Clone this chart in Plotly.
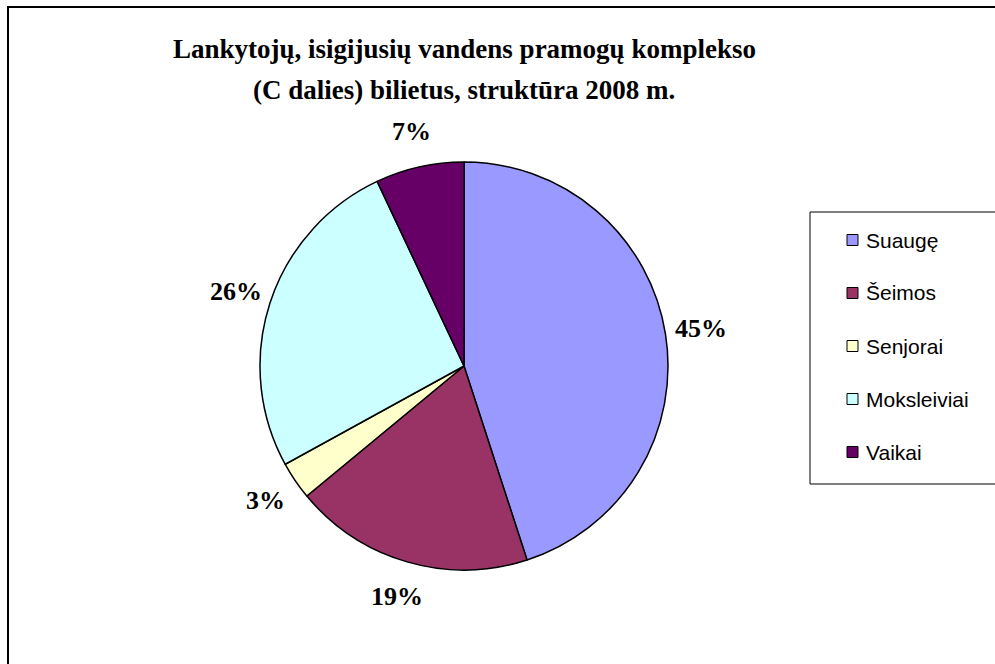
import math
import plotly.graph_objects as go

categories = ["Suaugę", "Šeimos", "Senjorai", "Moksleiviai", "Vaikai"]
values = [45, 19, 3, 26, 7]
colors = ["#9999FF", "#993366", "#FFFFCC", "#CCFFFF", "#660066"]
title_lines = ["Lankytojų, isigijusių vandens pramogų komplekso",
               "(C dalies) bilietus, struktūra 2008 m."]

W, H = 995, 664
cx, cy, R = 464, 366, 204
label_r = 240

def px(x):
    return x / W

def py(y):
    return 1 - y / H

fig = go.Figure(go.Pie(
    labels=categories, values=values, sort=False, direction="clockwise",
    rotation=0, textinfo="none", hoverinfo="label+percent",
    marker=dict(colors=colors, line=dict(color="black", width=1.5)),
    domain=dict(x=[px(cx - R), px(cx + R)], y=[py(cy + R), py(cy - R)]),
    showlegend=False,
))

annotations = []
total = sum(values)
cum = 0
for v in values:
    mid = 90 - (cum + v / 2) / total * 360
    cum += v
    a = math.radians(mid)
    lx = cx + label_r * math.cos(a)
    ly = cy - label_r * math.sin(a)
    annotations.append(dict(
        x=px(lx), y=py(ly), xref="paper", yref="paper",
        text=f"<b>{round(v / total * 100)}%</b>", showarrow=False,
        xanchor="center", yanchor="middle",
        font=dict(family="Liberation Serif", size=26, color="black"),
    ))

# title lines
for i, t in enumerate(title_lines):
    annotations.append(dict(
        x=px(464), y=py(49 + 41 * i), xref="paper", yref="paper",
        text=f"<b>{t}</b>", showarrow=False, xanchor="center", yanchor="middle",
        font=dict(family="Liberation Serif", size=27, color="black"),
    ))

shapes = []
# outer chart border (runs off the right and bottom of the picture)
shapes.append(dict(type="rect", xref="paper", yref="paper",
                   x0=px(8), x1=px(1015), y0=py(690), y1=py(7),
                   line=dict(color="black", width=2), fillcolor="rgba(0,0,0,0)"))
# legend box (clipped at the right edge)
shapes.append(dict(type="rect", xref="paper", yref="paper",
                   x0=px(810), x1=px(1015), y0=py(484), y1=py(212),
                   line=dict(color="black", width=1), fillcolor="white"))
for i, (c, col) in enumerate(zip(categories, colors)):
    yy = 240 + 53 * i
    shapes.append(dict(type="rect", xref="paper", yref="paper",
                       x0=px(847), x1=px(858), y0=py(yy + 5.5), y1=py(yy - 5.5),
                       line=dict(color="black", width=1), fillcolor=col))
    annotations.append(dict(
        x=px(864), y=py(yy), xref="paper", yref="paper", text=c,
        showarrow=False, xanchor="left", yanchor="middle",
        font=dict(family="Liberation Sans", size=21, color="black"),
    ))

fig.update_layout(
    width=W, height=H, margin=dict(l=0, r=0, t=0, b=0),
    paper_bgcolor="white", plot_bgcolor="white",
    annotations=annotations, shapes=shapes,
)

fig.write_html(
    "out.html",
    config={"displayModeBar": False},
    post_script="document.body.style.margin='0';document.body.style.overflow='hidden';",
)
